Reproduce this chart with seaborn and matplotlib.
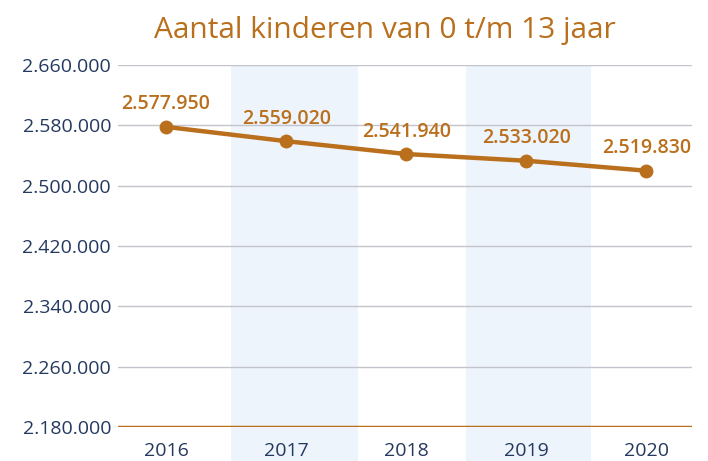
import matplotlib
matplotlib.use("Agg")
import matplotlib.pyplot as plt
import seaborn as sns
import pandas as pd

years = ["2016", "2017", "2018", "2019", "2020"]
kinderen = [2577950, 2559020, 2541940, 2533020, 2519830]
y_ticks = [2180000, 2260000, 2340000, 2420000, 2500000, 2580000, 2660000]

ORANGE = "#B96F1C"
NAVY = "#24395F"
GRID = "#C3C4CC"
BAND = "#EEF4FC"


def dutch(v):
    return f"{v:,}".replace(",", ".")


sns.set_theme(style="white")
plt.rcParams["font.family"] = ["Open Sans", "DejaVu Sans"]

df = pd.DataFrame({"jaar": range(len(years)), "aantal": kinderen})

fig = plt.figure(figsize=(7.08, 4.61), dpi=100)
ax = fig.add_axes([0.1667, 0.0738, 0.8107, 0.7852])

# alternating background bands (run down to the bottom of the figure)
for lo, hi in ((0.54, 1.6), (2.5, 3.54)):
    ax.axvspan(lo, hi, ymin=-0.094, ymax=1, color=BAND,
               zorder=0, clip_on=False, lw=0)

for t in y_ticks[1:]:
    ax.axhline(t, color=GRID, lw=1, zorder=1)
ax.axhline(y_ticks[0], color=ORANGE, lw=2.5, zorder=2)

sns.lineplot(data=df, x="jaar", y="aantal", color=ORANGE, lw=3.2,
             marker="o", markersize=10, markeredgewidth=0, ax=ax, zorder=3)

for i, v in enumerate(kinderen):
    ax.annotate(dutch(v), (i, v), xytext=(0, 9), textcoords="offset points",
                ha="center", va="bottom", color=ORANGE, fontsize=14,
                fontweight="semibold")

ax.set_xlim(-0.4, 4.38)
ax.set_ylim(y_ticks[0], y_ticks[-1])
ax.set_yticks(y_ticks)
ax.set_yticklabels([dutch(t) for t in y_ticks])
ax.set_xticks(range(len(years)))
ax.set_xticklabels(years)
ax.tick_params(axis="both", length=0, labelsize=14, colors=NAVY)
ax.tick_params(axis="y", pad=5)
ax.tick_params(axis="x", pad=11)
ax.set_xlabel("")
ax.set_ylabel("")
for s in ax.spines.values():
    s.set_visible(False)

fig.suptitle("Aantal kinderen van 0 t/m 13 jaar", x=0.543, y=0.965,
             va="top", color=ORANGE, fontsize=21.5)

fig.savefig("out.png", dpi=100)
